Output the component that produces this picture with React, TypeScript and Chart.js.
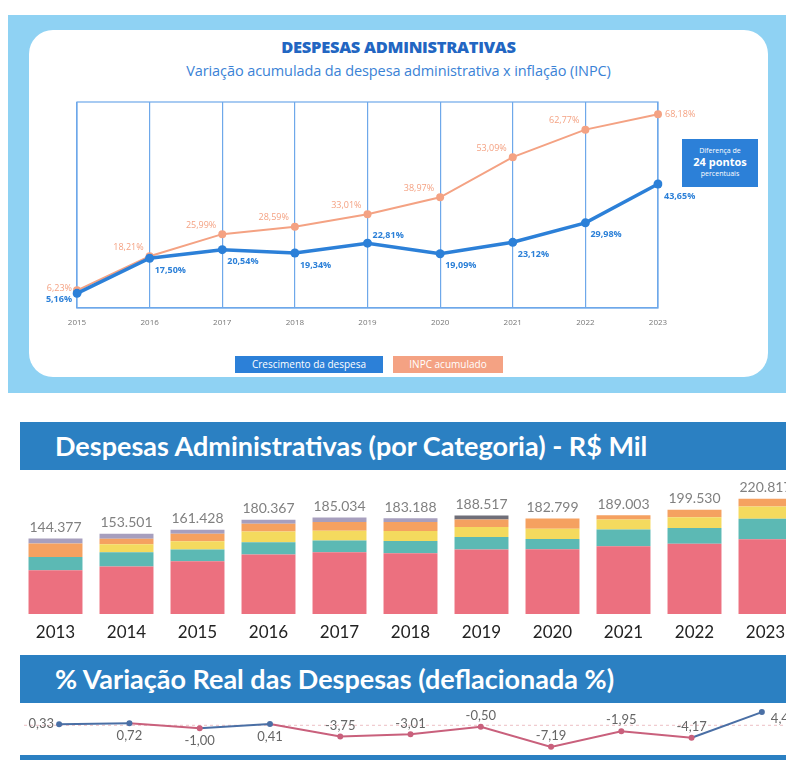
import React, { useEffect, useRef } from "react";
import { Chart, registerables } from "chart.js";

Chart.register(...registerables);

// ---------- Chart 1: variação acumulada ----------
const lineYears = ["2015", "2016", "2017", "2018", "2019", "2020", "2021", "2022", "2023"];
const despesaAcum = [5.16, 17.5, 20.54, 19.34, 22.81, 19.09, 23.12, 29.98, 43.65];
const inpcAcum = [6.23, 18.21, 25.99, 28.59, 33.01, 38.97, 53.09, 62.77, 68.18];
const lineSeriesNames = ["Crescimento da despesa", "INPC acumulado"];

// ---------- Chart 2: despesas por categoria (R$ mil) ----------
const barYears = ["2013", "2014", "2015", "2016", "2017", "2018", "2019", "2020", "2021", "2022", "2023"];
const totalDespesas = [144377, 153501, 161428, 180367, 185034, 183188, 188517, 182799, 189003, 199530, 220817];
const catRosa = [84000, 91000, 101000, 114000, 118500, 116500, 123500, 124000, 130000, 134500, 143000];
const catVerde = [25000, 27500, 22400, 23400, 22200, 23500, 24000, 19500, 32000, 30000, 39500];
const catAmarelo = [0, 15200, 16000, 20800, 19000, 19000, 19000, 20000, 19000, 21000, 23600];
const catLaranja = [26000, 10300, 14500, 14500, 16500, 17200, 14500, 19300, 8000, 14000, 14700];
const catLilas = [9400, 9500, 7500, 7700, 8800, 7000, 0, 0, 0, 0, 0];
const catCinza = [0, 0, 0, 0, 0, 0, 7500, 0, 0, 0, 0];

// ---------- Chart 3: variação real (%) ----------
const variacaoReal = [0.33, 0.72, -1.0, 0.41, -3.75, -3.01, -0.5, -7.19, -1.95, -4.17, 4.4];

const BLUE = "#2c80d8";
const ORANGE = "#f4a283";
const HEADER_BLUE = "#2b80c2";

const fmtPct = (v: number) => v.toFixed(2).replace(".", ",") + "%";
const fmtNum = (v: number) => v.toFixed(2).replace(".", ",");
const fmtMil = (v: number) => Math.round(v).toString().replace(/\B(?=(\d{3})+(?!\d))/g, ".");

function AcumChart() {
  const ref = useRef<HTMLCanvasElement>(null);
  useEffect(() => {
    const boxPlugin = {
      id: "box",
      beforeDatasetsDraw(chart: any) {
        const { ctx, chartArea } = chart;
        ctx.save();
        ctx.strokeStyle = "#6ea8ea";
        ctx.lineWidth = 1.2;
        ctx.strokeRect(chartArea.left, chartArea.top, chartArea.right - chartArea.left, chartArea.bottom - chartArea.top);
        ctx.restore();
      },
    };
    const labelPlugin = {
      id: "lbl",
      afterDatasetsDraw(chart: any) {
        const { ctx } = chart;
        ctx.save();
        ctx.textBaseline = "middle";
        chart.data.datasets.forEach((ds: any, di: number) => {
          const meta = chart.getDatasetMeta(di);
          meta.data.forEach((pt: any, i: number) => {
            const v = ds.data[i];
            let dx = 0, dy = 0, align: CanvasTextAlign = "left";
            if (di === 0) {
              ctx.font = "bold 9px 'Open Sans'";
              ctx.fillStyle = BLUE;
              if (i === 0) { dx = -5; dy = 6; align = "right"; }
              else if (i === 4) { dx = 5; dy = -8; align = "left"; }
              else if (i === ds.data.length - 1) { dx = 6; dy = 12; align = "left"; }
              else { dx = 5; dy = 12; align = "left"; }
            } else {
              ctx.font = "9px 'Open Sans'";
              ctx.fillStyle = ORANGE;
              if (i === 0) { dx = -5; dy = -2; align = "right"; }
              else if (i === ds.data.length - 1) { dx = 7; dy = 0; align = "left"; }
              else { dx = -6; dy = -9; align = "right"; }
            }
            ctx.textAlign = align;
            ctx.fillText(fmtPct(v), pt.x + dx, pt.y + dy);
          });
        });
        ctx.restore();
      },
    };
    const chart = new Chart(ref.current!, {
      type: "line",
      data: {
        labels: lineYears,
        datasets: [
          {
            label: lineSeriesNames[0],
            data: despesaAcum,
            borderColor: BLUE,
            backgroundColor: BLUE,
            borderWidth: 3.5,
            pointRadius: 4.5,
            pointBorderWidth: 0,
            pointBackgroundColor: BLUE,
          },
          {
            label: lineSeriesNames[1],
            data: inpcAcum,
            borderColor: ORANGE,
            backgroundColor: ORANGE,
            borderWidth: 2,
            pointRadius: 4,
            pointBorderWidth: 0,
            pointBackgroundColor: ORANGE,
          },
        ],
      },
      options: {
        animation: false,
        responsive: false,
        layout: { padding: { left: 49, right: 112, top: 14, bottom: 8 } },
        plugins: { legend: { display: false }, tooltip: { enabled: false } },
        scales: {
          x: {
            offset: false,
            grid: { color: "#6ea8ea", lineWidth: 1.2, drawTicks: false },
            border: { display: true, color: "#6ea8ea", width: 1.2 },
            ticks: { color: "#777", font: { family: "Open Sans", size: 8 }, padding: 10 },
            afterFit: (s: any) => { s.height = 24; },
          },
          y: { display: false, min: 0, max: 72.5 },
        },
      },
      plugins: [boxPlugin, labelPlugin],
    });
    return () => chart.destroy();
  }, []);
  return <canvas ref={ref} width={742} height={252} style={{ position: "absolute", left: 28, top: 88 }} />;
}

function BarChart() {
  const ref = useRef<HTMLCanvasElement>(null);
  useEffect(() => {
    const totalPlugin = {
      id: "totals",
      afterDatasetsDraw(chart: any) {
        const { ctx } = chart;
        const x = chart.scales.x;
        const y = chart.scales.y;
        ctx.save();
        ctx.font = "14px Lato";
        ctx.fillStyle = "#808080";
        ctx.textAlign = "center";
        ctx.textBaseline = "middle";
        totalDespesas.forEach((t, i) => {
          ctx.fillText(fmtMil(t), x.getPixelForValue(i), y.getPixelForValue(t) - 11);
        });
        ctx.restore();
      },
    };
    const mk = (label: string, data: number[], color: string) => ({
      label,
      data,
      backgroundColor: color,
      borderWidth: 0,
      barPercentage: 0.76,
      categoryPercentage: 1,
    });
    const chart = new Chart(ref.current!, {
      type: "bar",
      data: {
        labels: barYears,
        datasets: [
          mk("Categoria 1", catRosa, "#ec707f"),
          mk("Categoria 2", catVerde, "#5cb9b4"),
          mk("Categoria 3", catAmarelo, "#f4da5e"),
          mk("Categoria 4", catLaranja, "#f5a160"),
          mk("Categoria 5", catLilas, "#a79fbe"),
          mk("Categoria 6", catCinza, "#6f6e78"),
        ],
      },
      options: {
        animation: false,
        responsive: false,
        layout: { padding: 0 },
        plugins: { legend: { display: false }, tooltip: { enabled: false } },
        scales: {
          x: {
            stacked: true,
            grid: { display: false, drawTicks: false },
            border: { display: false },
            ticks: { color: "#222", font: { family: "Lato", size: 17 }, padding: 8 },
            afterFit: (s: any) => { s.height = 33; },
          },
          y: { stacked: true, display: false, min: 0, max: 272000 },
        },
      },
      plugins: [totalPlugin],
    });
    return () => chart.destroy();
  }, []);
  return <canvas ref={ref} width={781} height={175} style={{ position: "absolute", left: 20, top: 472 }} />;
}

function RealChart() {
  const ref = useRef<HTMLCanvasElement>(null);
  useEffect(() => {
    const POS = "#4a6fa5";
    const NEG = "#c9607c";
    const zeroPlugin = {
      id: "zero",
      beforeDatasetsDraw(chart: any) {
        const { ctx, chartArea } = chart;
        const y0 = chart.scales.y.getPixelForValue(0);
        ctx.save();
        ctx.strokeStyle = "rgba(220,140,150,0.55)";
        ctx.lineWidth = 1;
        ctx.setLineDash([3, 3]);
        ctx.beginPath();
        ctx.moveTo(chartArea.left, y0);
        ctx.lineTo(chartArea.right, y0);
        ctx.stroke();
        ctx.restore();
      },
    };
    const labelPlugin = {
      id: "rlbl",
      afterDatasetsDraw(chart: any) {
        const { ctx } = chart;
        const meta = chart.getDatasetMeta(0);
        ctx.save();
        ctx.font = "13px Lato";
        ctx.fillStyle = "#666";
        ctx.textBaseline = "middle";
        meta.data.forEach((pt: any, i: number) => {
          const v = variacaoReal[i];
          let dx = 0, dy = -11, align: CanvasTextAlign = "center";
          if (i === 0) { dx = -5; dy = 0; align = "right"; }
          else if (i >= 1 && i <= 3) { dy = 13; }
          else if (i === variacaoReal.length - 1) { dx = 9; dy = 7; align = "left"; }
          ctx.textAlign = align;
          ctx.fillText(fmtNum(v), pt.x + dx, pt.y + dy);
        });
        ctx.restore();
      },
    };
    const chart = new Chart(ref.current!, {
      type: "line",
      data: {
        labels: barYears,
        datasets: [
          {
            label: "Variação real",
            data: variacaoReal,
            borderWidth: 2,
            borderColor: POS,
            segment: {
              borderColor: (c: any) => (c.p1.parsed.y >= 0 ? POS : NEG),
            },
            pointRadius: 3,
            pointBorderWidth: 0,
            pointBackgroundColor: variacaoReal.map((v) => (v >= 0 ? POS : NEG)),
            clip: false as any,
          },
        ],
      },
      options: {
        animation: false,
        responsive: false,
        layout: { padding: 0 },
        plugins: { legend: { display: false }, tooltip: { enabled: false } },
        scales: {
          x: { display: false, offset: true },
          y: { display: false, min: -9.9, max: 5.1 },
        },
      },
      plugins: [zeroPlugin, labelPlugin],
    });
    return () => chart.destroy();
  }, []);
  return <canvas ref={ref} width={781} height={53} style={{ position: "absolute", left: 20, top: 706 }} />;
}

export default function App() {
  const headerText = (size: number): React.CSSProperties => ({
    position: "absolute",
    left: 35,
    top: 0,
    height: 48,
    lineHeight: "48px",
    color: "#fff",
    fontFamily: "Lato",
    fontWeight: 700,
    fontSize: size,
    whiteSpace: "nowrap",
  });
  return (
    <div style={{ position: "fixed", left: 0, top: 0, width: 786, height: 760, overflow: "hidden", background: "#fff" }}>
      {/* top infographic */}
      <div style={{ position: "absolute", left: 8, top: 15, width: 790, height: 378, background: "#8fd2f3" }} />
      <div style={{ position: "absolute", left: 29, top: 30, width: 739, height: 347, background: "#fff", borderRadius: 24 }} />
      <div style={{ position: "absolute", left: 29, top: 35, width: 739, textAlign: "center", fontFamily: "Open Sans", fontWeight: 800, fontSize: 16.5, color: "#2266c2", letterSpacing: -0.3 }}>
        DESPESAS ADMINISTRATIVAS
      </div>
      <div style={{ position: "absolute", left: 29, top: 61, width: 739, textAlign: "center", fontFamily: "Open Sans", fontSize: 14.5, color: "#3a82d6", letterSpacing: -0.1 }}>
        Variação acumulada da despesa administrativa x inflação (INPC)
      </div>
      <AcumChart />
      <div style={{ position: "absolute", left: 682, top: 139, width: 76, height: 48, background: BLUE, color: "#fff", fontFamily: "Open Sans", textAlign: "center" }}>
        <div style={{ fontSize: 7, marginTop: 7, lineHeight: "9px" }}>Diferença de</div>
        <div style={{ fontSize: 11, fontWeight: 700, lineHeight: "14px" }}>24 pontos</div>
        <div style={{ fontSize: 7, lineHeight: "9px" }}>percentuais</div>
      </div>
      <div style={{ position: "absolute", left: 235, top: 356, width: 148, height: 17, background: BLUE, color: "#fff", fontFamily: "Open Sans", fontSize: 10, lineHeight: "17px", textAlign: "center" }}>
        {lineSeriesNames[0]}
      </div>
      <div style={{ position: "absolute", left: 393, top: 356, width: 110, height: 17, background: ORANGE, color: "#fff", fontFamily: "Open Sans", fontSize: 10, lineHeight: "17px", textAlign: "center" }}>
        {lineSeriesNames[1]}
      </div>

      {/* categories section */}
      <div style={{ position: "absolute", left: 20, top: 422, width: 780, height: 48, background: HEADER_BLUE }}>
        <div style={headerText(27)}>Despesas Administrativas (por Categoria) - R$ Mil</div>
      </div>
      <BarChart />

      {/* real variation section */}
      <div style={{ position: "absolute", left: 20, top: 655, width: 780, height: 48, background: HEADER_BLUE }}>
        <div style={headerText(27)}>% Variação Real das Despesas (deflacionada %)</div>
      </div>
      <RealChart />
      <div style={{ position: "absolute", left: 20, top: 755, width: 780, height: 6, background: HEADER_BLUE }} />
    </div>
  );
}
